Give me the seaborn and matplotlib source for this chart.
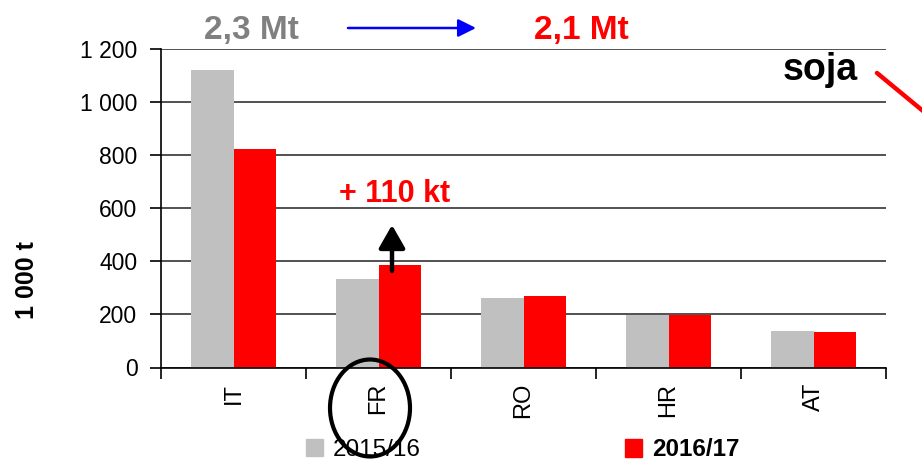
import seaborn as sns
import matplotlib.pyplot as plt
import pandas as pd
from matplotlib.patches import Ellipse
from matplotlib.lines import Line2D
from matplotlib.ticker import FuncFormatter, FixedLocator

# production by country, 1000 t
countries = ["IT", "FR", "RO", "HR", "AT"]
seasons = ["2015/16", "2016/17"]
prod_1516 = [1120, 335, 263, 197, 139]
prod_1617 = [822, 385, 271, 198, 134]
colors = ["#C0C0C0", "#FF0000"]

df = pd.DataFrame({
    "country": countries * 2,
    "season": [seasons[0]] * len(countries) + [seasons[1]] * len(countries),
    "value": prod_1516 + prod_1617,
})

sns.set_theme(style="white")
plt.rcParams["font.family"] = ["Liberation Sans", "DejaVu Sans"]
plt.rcParams["text.color"] = "black"

W, H = 922, 463
fig = plt.figure(figsize=(W / 100, H / 100), dpi=100)
ax = fig.add_axes([161 / W, 1 - 367.5 / H, (886 - 161) / W, (367.5 - 49) / H])


def fp(x, y):
    # image pixel -> figure fraction
    return (x / W, 1 - y / H)


sns.barplot(data=df, x="country", y="value", hue="season", order=countries,
            hue_order=seasons, palette=colors, width=0.586, gap=0,
            saturation=1, edgecolor="none", linewidth=0, legend=False, ax=ax)

ax.set_ylim(0, 1200)
ax.set_xlim(-0.5, len(countries) - 0.5)
ax.set_yticks(range(0, 1201, 200))
ax.yaxis.set_major_formatter(FuncFormatter(lambda v, p: f"{v:,.0f}".replace(",", " ")))
ax.yaxis.grid(True, color="#333333", linewidth=1.2)
ax.set_axisbelow(True)

for s in ["top", "right"]:
    ax.spines[s].set_visible(False)
for s in ["left", "bottom"]:
    ax.spines[s].set_color("black")
    ax.spines[s].set_linewidth(1.2)

ax.tick_params(axis="y", which="major", direction="out", length=8, width=1.2,
               color="black", left=True, labelsize=16.5, pad=9, labelcolor="black")
ax.xaxis.set_minor_locator(FixedLocator([i - 0.5 for i in range(len(countries) + 1)]))
ax.tick_params(axis="x", which="minor", direction="out", length=8, width=1.2,
               color="black", bottom=True)
ax.tick_params(axis="x", which="major", length=0, pad=11, labelsize=17,
               labelrotation=90, labelcolor="black")
ax.set_xlabel("")
ax.set_ylabel("")

fig.text(*fp(27, 280), "1 000 t", rotation=90, fontsize=18, fontweight="bold",
         ha="center", va="center")

# headline totals
fig.text(*fp(251, 30), "2,3 Mt", color="#808080", fontsize=24, fontweight="bold",
         ha="center", va="center")
fig.text(*fp(581, 30), "2,1 Mt", color="#FF0000", fontsize=24, fontweight="bold",
         ha="center", va="center")
ax.annotate("", xy=fp(476, 28), xytext=fp(348, 28), xycoords="figure fraction",
            textcoords="figure fraction", annotation_clip=False,
            arrowprops=dict(arrowstyle="-|>,head_length=0.6,head_width=0.3",
                            mutation_scale=18, color="#0000FF", lw=1.8,
                            shrinkA=0, shrinkB=0))

# FR increase
fig.text(*fp(395, 194), "+ 110 kt", color="#FF0000", fontsize=22, fontweight="bold",
         ha="center", va="center")
ax.annotate("", xy=fp(392, 225), xytext=fp(392, 271), xycoords="figure fraction",
            textcoords="figure fraction", annotation_clip=False,
            arrowprops=dict(arrowstyle="-|>,head_length=0.7,head_width=0.4",
                            mutation_scale=20, color="black", lw=3.2,
                            shrinkA=0, shrinkB=0))

# soja label with red pointer
fig.text(*fp(820, 70), "soja", color="black", fontsize=27, fontweight="bold",
         ha="center", va="center")
fig.add_artist(Line2D([877 / W, 940 / W], [1 - 73 / H, 1 - 125 / H],
                      transform=fig.transFigure, color="#FF0000", lw=3.2))

# legend entries
h1 = [plt.Rectangle((0, 0), 1, 1, color=colors[0])]
h2 = [plt.Rectangle((0, 0), 1, 1, color=colors[1])]
leg1 = fig.legend(h1, [seasons[0]], loc="center left", bbox_to_anchor=fp(306, 450),
                  frameon=False, fontsize=17.5, handlelength=0.7, handleheight=0.7,
                  handletextpad=0.4, borderpad=0, borderaxespad=0, labelcolor="black")
leg2 = fig.legend(h2, [seasons[1]], loc="center left", bbox_to_anchor=fp(625, 450),
                  frameon=False, fontsize=17.5, handlelength=0.7, handleheight=0.7,
                  handletextpad=0.4, borderpad=0, borderaxespad=0, labelcolor="black")
leg2.get_texts()[0].set_fontweight("bold")

# circle around FR
ell = Ellipse(fp(370, 408), 80 / W, 97 / H, transform=fig.transFigure,
              fill=False, edgecolor="black", lw=3, zorder=10)
fig.add_artist(ell)

fig.savefig("out.png", dpi=100)
